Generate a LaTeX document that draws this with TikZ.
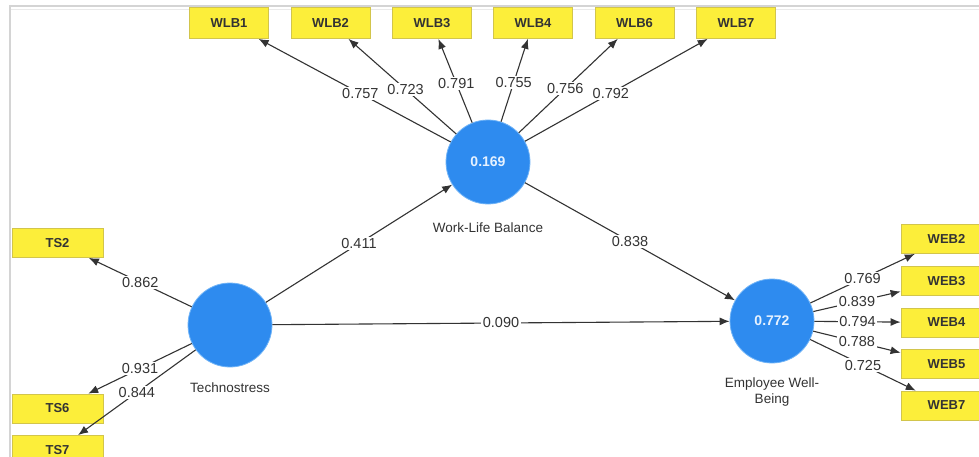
\documentclass[tikz,border=0pt]{standalone}
\usepackage{fontspec}
\setmainfont{Liberation Sans}
\usetikzlibrary{arrows.meta}
\definecolor{boxfill}{HTML}{FCEE3A}
\definecolor{boxline}{HTML}{D2C54C}
\definecolor{lvblue}{HTML}{2E8BEF}
\definecolor{lvrim}{HTML}{6FB3F7}
\definecolor{ink}{HTML}{333333}
\definecolor{framegray}{HTML}{D4D4D4}
\definecolor{lvtext}{HTML}{E6F2FF}
\begin{document}
\begin{tikzpicture}[x=1pt,y=-1pt,
 ind/.style={rectangle, fill=boxfill, draw=boxline, line width=0.8pt, inner sep=0pt, font=\fontsize{13}{13}\selectfont\bfseries, text=ink},
 wlbbox/.style={ind, minimum width=79pt, minimum height=31pt},
 sidebox/.style={ind, minimum width=91pt, minimum height=29pt},
 lv/.style={circle, fill=lvblue, draw=lvrim, line width=0.8pt, minimum size=84pt, inner sep=0pt, text=lvtext, font=\fontsize{14}{14}\selectfont\bfseries},
 lvname/.style={font=\fontsize{13.5}{16}\selectfont, text=ink, align=center},
 conn/.style={draw=ink, line width=1.1pt, -{Latex[length=10pt,width=8pt]}},
 coef/.style={fill=white, inner sep=1.5pt, font=\fontsize{14.5}{14.5}\selectfont, text=ink}
]
\useasboundingbox (0,0) rectangle (979,457);
\clip (0,0) rectangle (979,457);
\fill[white] (0,0) rectangle (979,457);
% frame
\draw[framegray, line width=2pt] (10,6) -- (979,6);
\draw[framegray!50, line width=0.8pt] (11,9.5) -- (979,9.5);
\draw[framegray, line width=1.6pt] (10,5) -- (10,457);

% latent variables
\node[lv] (ts) at (230,325) {};
\node[lv] (wlb) at (488,162) {0.169};
\node[lv] (ewb) at (772,321) {0.772};
\node[lvname] (tsname) at (230,388) {Technostress};
\node[lvname] (wlbname) at (488,228) {Work-Life Balance};
\node[lvname] (ewbname) at (772,392) {Employee Well-\\Being};

% WLB indicators
\node[wlbbox] (wlb1) at (229,23) {WLB1};
\node[wlbbox] (wlb2) at (330.5,23) {WLB2};
\node[wlbbox] (wlb3) at (432,23) {WLB3};
\node[wlbbox] (wlb4) at (533,23) {WLB4};
\node[wlbbox] (wlb6) at (634.5,23) {WLB6};
\node[wlbbox] (wlb7) at (736,23) {WLB7};

% TS indicators
\node[sidebox] (ts2) at (57.5,243) {TS2};
\node[sidebox] (ts6) at (57.5,408.5) {TS6};
\node[sidebox] (ts7) at (57.5,450) {TS7};

% WEB indicators
\node[sidebox] (web2) at (946.5,239) {WEB2};
\node[sidebox] (web3) at (946.5,281) {WEB3};
\node[sidebox] (web4) at (946.5,322.5) {WEB4};
\node[sidebox] (web5) at (946.5,364) {WEB5};
\node[sidebox] (web7) at (946.5,405.5) {WEB7};

% outer loadings WLB
\draw[conn] (wlb) -- node[coef,pos=0.47]{0.757} (wlb1);
\draw[conn] (wlb) -- node[coef,pos=0.47]{0.723} (wlb2);
\draw[conn] (wlb) -- node[coef,pos=0.47]{0.791} (wlb3);
\draw[conn] (wlb) -- node[coef,pos=0.47]{0.755} (wlb4);
\draw[conn] (wlb) -- node[coef,pos=0.47]{0.756} (wlb6);
\draw[conn] (wlb) -- node[coef,pos=0.47]{0.792} (wlb7);

% outer loadings TS
\draw[conn] (ts) -- node[coef,midway]{0.862} (ts2);
\draw[conn] (ts) -- node[coef,midway]{0.931} (ts6);
\draw[conn] (ts) -- node[coef,midway]{0.844} (ts7);

% outer loadings EWB
\draw[conn] (ewb) -- node[coef,midway]{0.769} (web2);
\draw[conn] (ewb) -- node[coef,midway]{0.839} (web3);
\draw[conn] (ewb) -- node[coef,midway]{0.794} (web4);
\draw[conn] (ewb) -- node[coef,midway]{0.788} (web5);
\draw[conn] (ewb) -- node[coef,midway]{0.725} (web7);

% structural paths
\draw[conn] (ts) -- node[coef,midway]{0.411} (wlb);
\draw[conn] (wlb) -- node[coef,midway]{0.838} (ewb);
\draw[conn] (ts) -- node[coef,midway]{0.090} (ewb);
\end{tikzpicture}
\end{document}
